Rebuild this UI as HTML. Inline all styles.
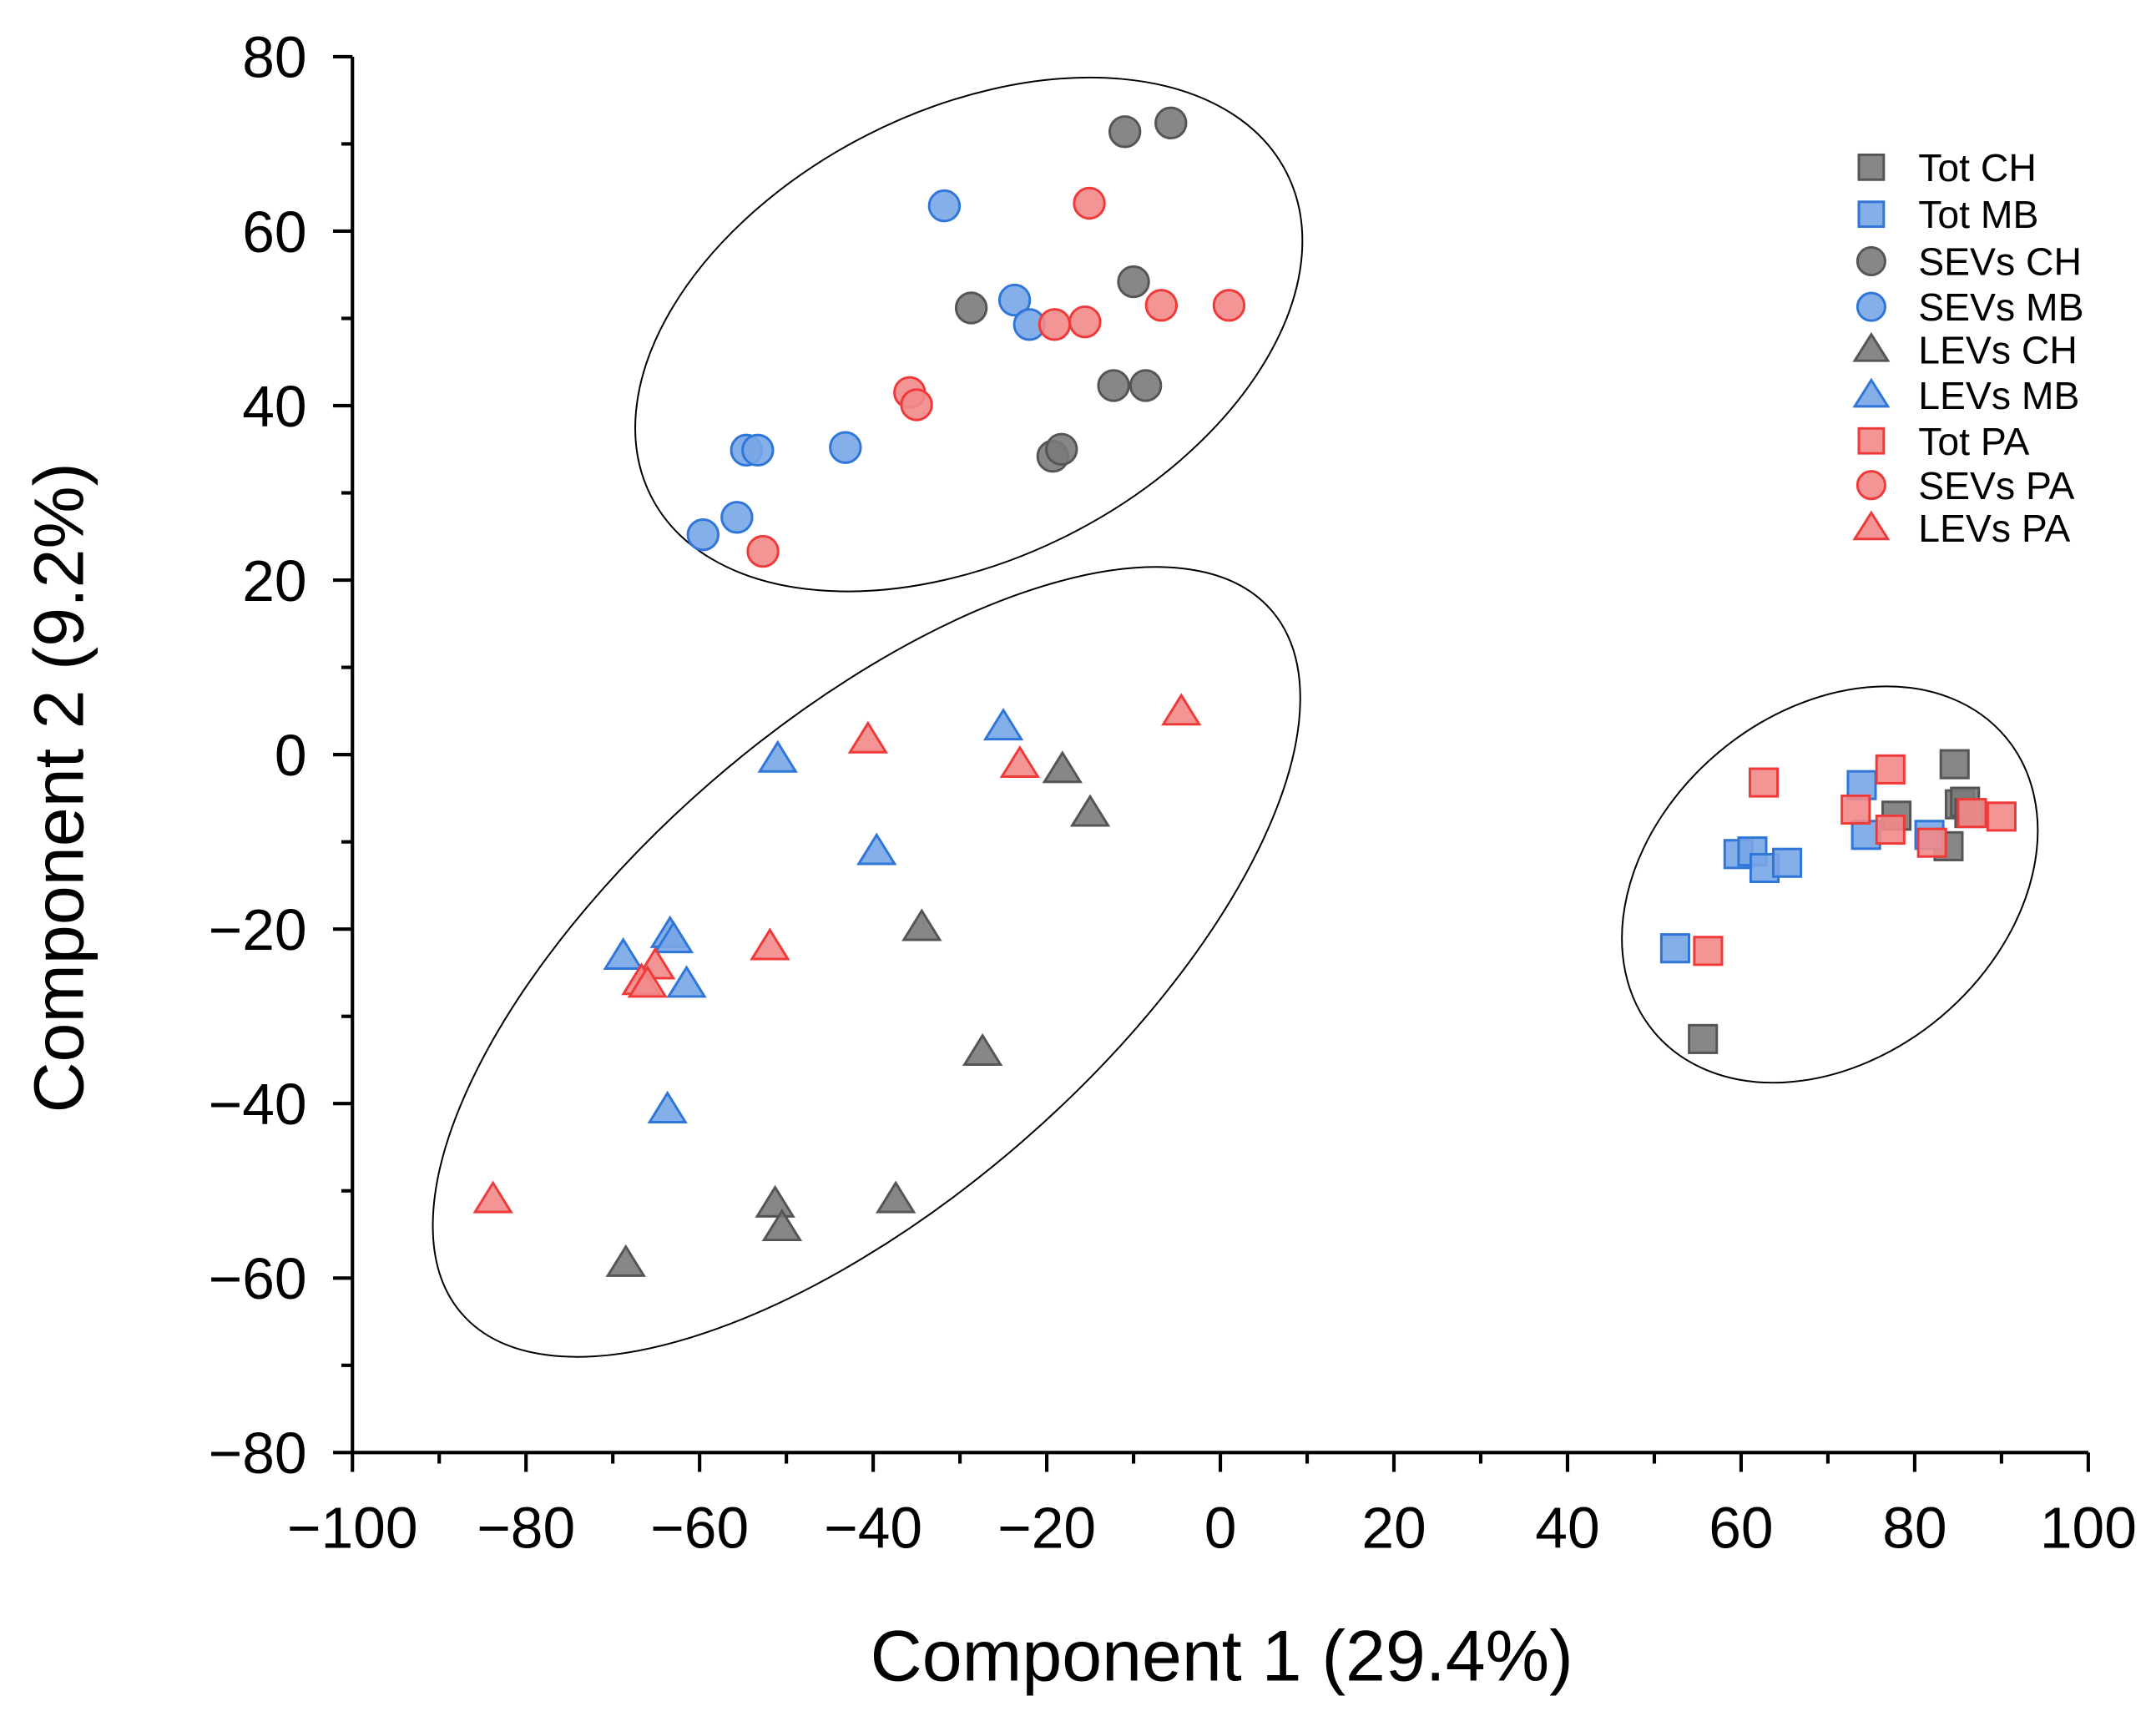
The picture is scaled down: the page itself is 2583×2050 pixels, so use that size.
<!DOCTYPE html>
<html><head><meta charset="utf-8"><style>
html,body{margin:0;padding:0;background:#fff;}
svg{display:block;font-family:"Liberation Sans",sans-serif;}
</style></head><body>
<svg id="chart" width="2583" height="2050" viewBox="0 0 1560 1238" preserveAspectRatio="none" xmlns="http://www.w3.org/2000/svg">
<g id="ellipses" fill="none" stroke="#000" stroke-width="1.2">
<ellipse cx="701" cy="242" rx="258" ry="162" transform="rotate(-27 701 242)"/>
<ellipse cx="627" cy="696" rx="388" ry="172" transform="rotate(-41 627 696)"/>
<ellipse cx="1324" cy="640" rx="166" ry="125" transform="rotate(-40 1324 640)"/>
</g>
<g id="axes"></g>
<g id="points"></g>
<g id="legend"></g>
<text x="884" y="1216" font-size="52" text-anchor="middle">Component 1 (29.4%)</text>
<text x="0" y="0" font-size="51" text-anchor="middle" transform="translate(60 570) rotate(-90)">Component 2 (9.2%)</text>
</svg>
<script>
const xTicks = [-100,-80,-60,-40,-20,0,20,40,60,80,100];
const yTicks = [80,60,40,20,0,-20,-40,-60,-80];
const seriesNames = ["Tot CH","Tot MB","SEVs CH","SEVs MB","LEVs CH","LEVs MB","Tot PA","SEVs PA","LEVs PA"];
const totCH_x = [55.6,84.6,77.9,85.2,85.8,83.9,86.3];
const totCH_y = [-32.6,-1.1,-7,-5.7,-5.4,-10.5,-6.7];
const totMB_x = [52.4,59.7,61.3,62.7,65.3,73.9,74.4,81.7];
const totMB_y = [-22.2,-11.4,-11.1,-13,-12.4,-3.5,-9.2,-9.2];
const sevsCH_x = [-11,-5.7,-28.7,-10,-12.3,-8.6,-19.3,-18.3];
const sevsCH_y = [71.4,72.4,51.2,54.2,42.3,42.3,34.2,35];
const sevsMB_x = [-31.8,-23.7,-22,-43.2,-54.6,-53.3,-55.7,-59.6];
const sevsMB_y = [62.9,52.1,49.3,35.2,34.9,34.9,27.2,25.2];
const levsCH_x = [-18.2,-15,-34.4,-27.4,-37.4,-51.3,-50.5,-68.5];
const levsCH_y = [-1.7,-6.7,-19.8,-34.1,-51,-51.5,-54.2,-58.3];
const levsMB_x = [-25,-51,-39.6,-63.4,-63,-68.8,-61.5,-63.7];
const levsMB_y = [3.2,-0.5,-11.1,-20.6,-21.2,-23.1,-26.3,-40.7];
const totPA_x = [56.2,62.6,73.2,77.2,77.2,82,86.6,90];
const totPA_y = [-22.5,-3.2,-6.3,-1.7,-8.6,-10.1,-6.7,-7.1];
const sevsPA_x = [-15.1,-19.1,-15.6,-6.8,1,-35.8,-35,-52.7];
const sevsPA_y = [63.2,49.3,49.6,51.5,51.5,41.5,40.1,23.3];
const levsPA_x = [-4.5,-40.6,-23.1,-51.9,-65.1,-66.7,-66,-83.8];
const levsPA_y = [4.9,1.7,-1.1,-22,-24.2,-26,-26.3,-51];

const NS="http://www.w3.org/2000/svg";
const X0=255,X1=1511,Y0=1051,Y1=41;
function sx(v){return X0+(v+100)/200*(X1-X0);}
function sy(v){return Y0-(v+80)/160*(Y0-Y1);}
function mk(tag,attrs,parent){const e=document.createElementNS(NS,tag);for(const k in attrs)e.setAttribute(k,attrs[k]);parent.appendChild(e);return e;}
const axes=document.getElementById('axes');
let l=mk('line',{x1:X0,y1:Y1,x2:X0,y2:Y0,stroke:'#000','stroke-width':2.5},axes);


l=mk('line',{x1:X0,y1:Y0,x2:X1,y2:Y0,stroke:'#000','stroke-width':2.5},axes);


for(let v=-100;v<=100;v+=10){const major=v%20===0;const t=mk('line',{x1:sx(v),x2:sx(v),y1:Y0,y2:Y0+(major?14:8),stroke:'#000','stroke-width':2.5},axes);

}
for(let v=-80;v<=80;v+=10){const major=v%20===0;const t=mk('line',{x1:X0,x2:X0-(major?14:8),y1:sy(v),y2:sy(v),stroke:'#000','stroke-width':2.5},axes);

}
xTicks.forEach(v=>{const t=mk('text',{x:sx(v),y:Y0+69,'font-size':42,'text-anchor':'middle'},axes);t.textContent=(v<0?'\u2212'+(-v):v);

});
yTicks.forEach(v=>{const t=mk('text',{x:X0-33,y:sy(v)+15,'font-size':42,'text-anchor':'end'},axes);t.textContent=(v<0?'\u2212'+(-v):v);

});

const GRAY={f:'#7a7a7a',s:'#555'},BLUE={f:'#78a6e6',s:'#2f76d8'},RED={f:'#f28a8a',s:'#f03a3a'};
function marker(shape,c,x,y,parent,r){r=r||10;let e;
 if(shape==='sq')e=mk('rect',{x:x-r,y:y-r,width:2*r,height:2*r},parent);
 else if(shape==='ci')e=mk('circle',{cx:x,cy:y,r:r+1},parent);
 else e=mk('polygon',{points:`${x},${y-r-2} ${x-r-3},${y+r-1} ${x+r+3},${y+r-1}`},parent);
 e.setAttribute('fill',c.f);e.setAttribute('stroke',c.s);e.setAttribute('stroke-width',1.8);e.setAttribute('fill-opacity',0.9);return e;}
const series=[[totCH_x,totCH_y,'sq',GRAY],[totMB_x,totMB_y,'sq',BLUE],[sevsCH_x,sevsCH_y,'ci',GRAY],[sevsMB_x,sevsMB_y,'ci',BLUE],[levsCH_x,levsCH_y,'tr',GRAY],[levsMB_x,levsMB_y,'tr',BLUE],[totPA_x,totPA_y,'sq',RED],[sevsPA_x,sevsPA_y,'ci',RED],[levsPA_x,levsPA_y,'tr',RED]];
const pts=document.getElementById('points');
series.forEach((s,i)=>{s[0].forEach((xv,j)=>{const e=marker(s[2],s[3],sx(xv),sy(s[1][j]),pts);

});});
const lg=document.getElementById('legend');
const ly=[121,155,189,222,253,286,319,351,382];
series.forEach((s,i)=>{const g=mk('g',{},lg);


marker(s[2],s[3],1354,ly[i],g,9);
const t=mk('text',{x:1388,y:ly[i]+10,'font-size':28},g);t.textContent=seriesNames[i];});
</script>
</body></html>
